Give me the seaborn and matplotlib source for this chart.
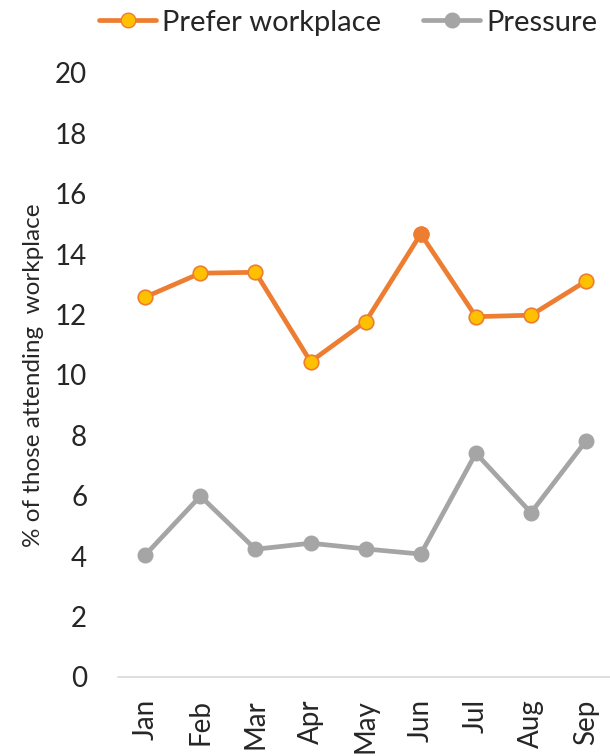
import matplotlib
matplotlib.use("Agg")
import matplotlib.pyplot as plt
import seaborn as sns
import pandas as pd
from matplotlib.lines import Line2D

months = ["Jan", "Feb", "Mar", "Apr", "May", "Jun", "Jul", "Aug", "Sep"]
prefer_workplace = [12.58, 13.37, 13.40, 10.44, 11.77, 14.67, 11.93, 11.98, 13.11]
pressure = [4.04, 5.99, 4.23, 4.43, 4.24, 4.07, 7.41, 5.44, 7.82]
y_ticks = [0, 2, 4, 6, 8, 10, 12, 14, 16, 18, 20]

ORANGE = "#ED7D31"
YELLOW = "#FFC000"
GREY = "#A5A5A5"

sns.set_theme(style="white")
plt.rcParams["font.family"] = ["Lato", "DejaVu Sans"]

df = pd.DataFrame({"month": months, "prefer": prefer_workplace, "pressure": pressure})
df["pos"] = range(len(months))

fig = plt.figure(figsize=(6.10, 7.56), dpi=100)
ax = fig.add_axes([0.193, 0.1045, 0.813, 0.799])

LW = 3.4
MS = 10.5

sns.lineplot(data=df, x="pos", y="pressure", ax=ax, color=GREY, lw=LW,
             marker="o", markersize=MS, markerfacecolor=GREY,
             markeredgecolor=GREY, markeredgewidth=1)
sns.lineplot(data=df, x="pos", y="prefer", ax=ax, color=ORANGE, lw=LW,
             marker="o", markersize=MS, markerfacecolor=YELLOW,
             markeredgecolor=ORANGE, markeredgewidth=1.2)
# June point is drawn solid orange
jun = df[df["month"] == "Jun"]
sns.scatterplot(data=jun, x="pos", y="prefer", ax=ax, color=ORANGE, s=MS ** 2,
                edgecolor=ORANGE, linewidth=1.2, zorder=5)

ax.set_xlim(-0.5, 8.5)
ax.set_ylim(0, 20)
ax.set_yticks(y_ticks)
ax.set_yticklabels([str(t) for t in y_ticks], fontsize=20)
ax.set_xticks(df["pos"])
ax.set_xticklabels(months, rotation=90, fontsize=20)
ax.tick_params(axis="y", length=0, pad=22)
ax.tick_params(axis="x", length=0, pad=16)
ax.set_xlabel("")
ax.set_ylabel("% of those attending  workplace", fontsize=17.5, labelpad=8)

for side in ["top", "right", "left"]:
    ax.spines[side].set_visible(False)
ax.spines["bottom"].set_color("#D9D9D9")
ax.spines["bottom"].set_linewidth(1.2)
ax.grid(False)

handles = [
    Line2D([], [], color=ORANGE, lw=LW, marker="o", markersize=MS,
           markerfacecolor=YELLOW, markeredgecolor=ORANGE),
    Line2D([], [], color=GREY, lw=LW, marker="o", markersize=MS,
           markerfacecolor=GREY, markeredgecolor=GREY),
]
fig.legend(handles, ["Prefer workplace", "Pressure"], loc="upper center",
           bbox_to_anchor=(0.571, 1.022), ncol=2, frameon=False, fontsize=21,
           handlelength=1.95, handletextpad=0.2, columnspacing=1.45)

fig.savefig("out.png", dpi=100)
